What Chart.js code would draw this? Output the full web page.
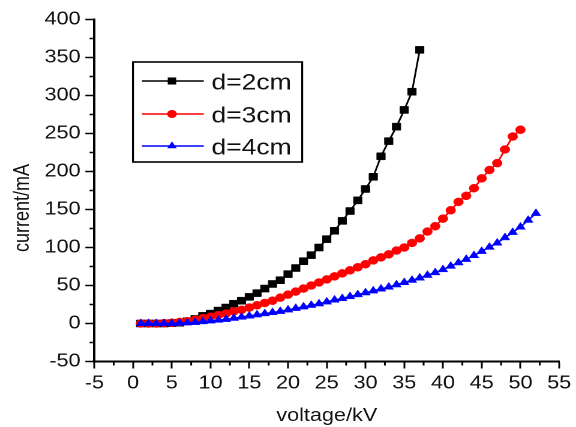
<!DOCTYPE html>
<html><head><meta charset="utf-8">
<script src="https://cdn.jsdelivr.net/npm/chart.js@4/dist/chart.umd.min.js"></script>
<style>
html,body{margin:0;padding:0;background:#fff;overflow:hidden;}
#wrap{position:absolute;left:0;top:0;width:480px;height:427px;transform:scaleX(1.2);transform-origin:0 0;}
</style></head><body>
<div id="wrap"><canvas id="c"></canvas></div>
<script>
// ---- data ----
const seriesLabels = ['d=2cm', 'd=3cm', 'd=4cm'];
const voltage2 = [1,2,3,4,5,6,7,8,9,10,11,12,13,14,15,16,17,18,19,20,21,22,23,24,25,26,27,28,29,30,31,32,33,34,35,36,37];
const current2 = [0,0,0,0,0.5,1,3,6,10,13,17,21,26,30,35,40,46,52,57,65,73,82,90,100,111,122,135,148,162,177,193,220,240,259,281,305,360];
const voltage3 = [1,2,3,4,5,6,7,8,9,10,11,12,13,14,15,16,17,18,19,20,21,22,23,24,25,26,27,28,29,30,31,32,33,34,35,36,37,38,39,40,41,42,43,44,45,46,47,48,49,50];
const current3 = [0,0,0,0.5,1,2,3,5,7,9,11,13,16,18,21,24,27,30,34,38,42,46,50,54,58,62,66,70,74,78,83,87,91,96,100,106,112,121,128,138,149,160,168,178,191,202,211,229,246,255];
const voltage4 = [1,2,3,4,5,6,7,8,9,10,11,12,13,14,15,16,17,18,19,20,21,22,23,24,25,26,27,28,29,30,31,32,33,34,35,36,37,38,39,40,41,42,43,44,45,46,47,48,49,50,51,52];
const current4 = [0,0,0,0,0,0.5,1,1.5,2.5,3.5,4.5,5.5,7,8.5,10,11.5,13,14.5,16,18,20,22,24,26,28.5,31,33,35.5,38,40.5,43,45.5,48,51,54,57,60,63.5,67,71,75.5,80,84.5,89.5,95,100.5,106,113,120,127,136,145];
const xTitle = 'voltage/kV';
const yTitle = 'current/mA';
const xMinorTicks = [-2.5,2.5,7.5,12.5,17.5,22.5,27.5,32.5,37.5,42.5,47.5,52.5];
const yMinorTicks = [-25,25,75,125,175,225,275,325,375];

function pts(xs, ys){ return xs.map((x,i)=>({x:x, y:ys[i]})); }

const FONT = 'Liberation Sans, Arial, sans-serif';
const TXT = '#111';

const styles = [
  {color:'#000000', pointStyle:'rect', radius:5},
  {color:'#ff0000', pointStyle:'circle', radius:4},
  {color:'#0000ff', pointStyle:'triangle', radius:4.6}
];

const minorTicks = {
  id:'minorTicks',
  afterDraw(chart){
    const {ctx, scales:{x, y}} = chart;
    ctx.save();
    ctx.strokeStyle = '#000'; ctx.lineWidth = 1.5;
    ctx.beginPath();
    yMinorTicks.forEach(v=>{ const py = y.getPixelForValue(v); ctx.moveTo(y.right, py); ctx.lineTo(y.right-4, py); });
    xMinorTicks.forEach(v=>{ const px = x.getPixelForValue(v); ctx.moveTo(px, x.top); ctx.lineTo(px, x.top+4); });
    ctx.stroke();
    ctx.restore();
  }
};

function drawMarker(ctx, style, r, x, y){
  ctx.beginPath();
  if (style === 'rect') { const s = r*Math.SQRT1_2; ctx.rect(x-s, y-s, 2*s, 2*s); }
  else if (style === 'circle') { ctx.arc(x, y, r, 0, Math.PI*2); }
  else { ctx.moveTo(x, y-r); ctx.lineTo(x+r*Math.sin(Math.PI/3), y+r*0.5); ctx.lineTo(x-r*Math.sin(Math.PI/3), y+r*0.5); ctx.closePath(); }
  ctx.fill();
}

const legendBox = {
  id:'legendBox',
  afterDraw(chart){
    const {ctx, chartArea} = chart;
    const bx = chartArea.left + 32.2, by = 62, bw = 141, bh = 100;
    ctx.save();
    ctx.fillStyle = '#fff';
    ctx.fillRect(bx, by, bw, bh);
    ctx.strokeStyle = '#000'; ctx.lineWidth = 1.6;
    ctx.strokeRect(bx, by, bw, bh);
    const rows = [81, 114, 146];
    chart.data.datasets.forEach((ds, i)=>{
      const st = styles[i];
      const yy = rows[i];
      ctx.strokeStyle = st.color; ctx.fillStyle = st.color; ctx.lineWidth = 1.5;
      ctx.beginPath(); ctx.moveTo(bx+7.5, yy); ctx.lineTo(bx+59, yy); ctx.stroke();
      drawMarker(ctx, st.pointStyle, st.radius, bx+32.5, yy);
      ctx.fillStyle = TXT;
      ctx.font = '22px ' + FONT;
      ctx.textAlign = 'left'; ctx.textBaseline = 'alphabetic';
      ctx.fillText(ds.label, bx+65.5, yy+8.5);
    });
    ctx.restore();
  }
};

const datasets = [
  {label:seriesLabels[0], data:pts(voltage2, current2), order:2},
  {label:seriesLabels[1], data:pts(voltage3, current3), order:1},
  {label:seriesLabels[2], data:pts(voltage4, current4), order:0}
].map((d,i)=>Object.assign(d, {
  borderColor:styles[i].color, backgroundColor:styles[i].color,
  pointBackgroundColor:styles[i].color, pointBorderColor:styles[i].color,
  pointStyle:styles[i].pointStyle, pointRadius:styles[i].radius, pointBorderWidth:0.5,
  borderWidth:1.5, tension:0, fill:false
}));

new Chart(document.getElementById('c'), {
  type:'line',
  data:{datasets},
  options:{
    responsive:true, maintainAspectRatio:false, animation:false, devicePixelRatio:2,
    layout:{padding:{left:0, right:10.6, top:19.5, bottom:0}},
    plugins:{legend:{display:false}, tooltip:{enabled:false}},
    scales:{
      x:{
        type:'linear', min:-5, max:55,
        ticks:{stepSize:5, color:TXT, font:{family:FONT, size:18}, padding:4, maxRotation:0, autoSkip:false},
        grid:{drawOnChartArea:false, drawTicks:true, tickLength:7, tickWidth:1.5, tickColor:'#000'},
        border:{color:'#000', width:2},
        title:{display:true, text:xTitle, color:TXT, font:{family:FONT, size:18}, padding:{top:0, bottom:0}},
        afterFit(s){ s.height = 65.5; }
      },
      y:{
        type:'linear', min:-50, max:400,
        ticks:{stepSize:50, color:TXT, font:{family:FONT, size:18}, padding:4},
        grid:{drawOnChartArea:false, drawTicks:true, tickLength:7.5, tickWidth:1.5, tickColor:'#000'},
        border:{color:'#000', width:2},
        title:{display:true, text:yTitle + '       ', color:TXT, font:{family:FONT, size:18}, padding:{top:8, bottom:0}},
        afterFit(s){ s.width = 78.6; }
      }
    }
  },
  plugins:[minorTicks, legendBox]
});
</script>
</body></html>
